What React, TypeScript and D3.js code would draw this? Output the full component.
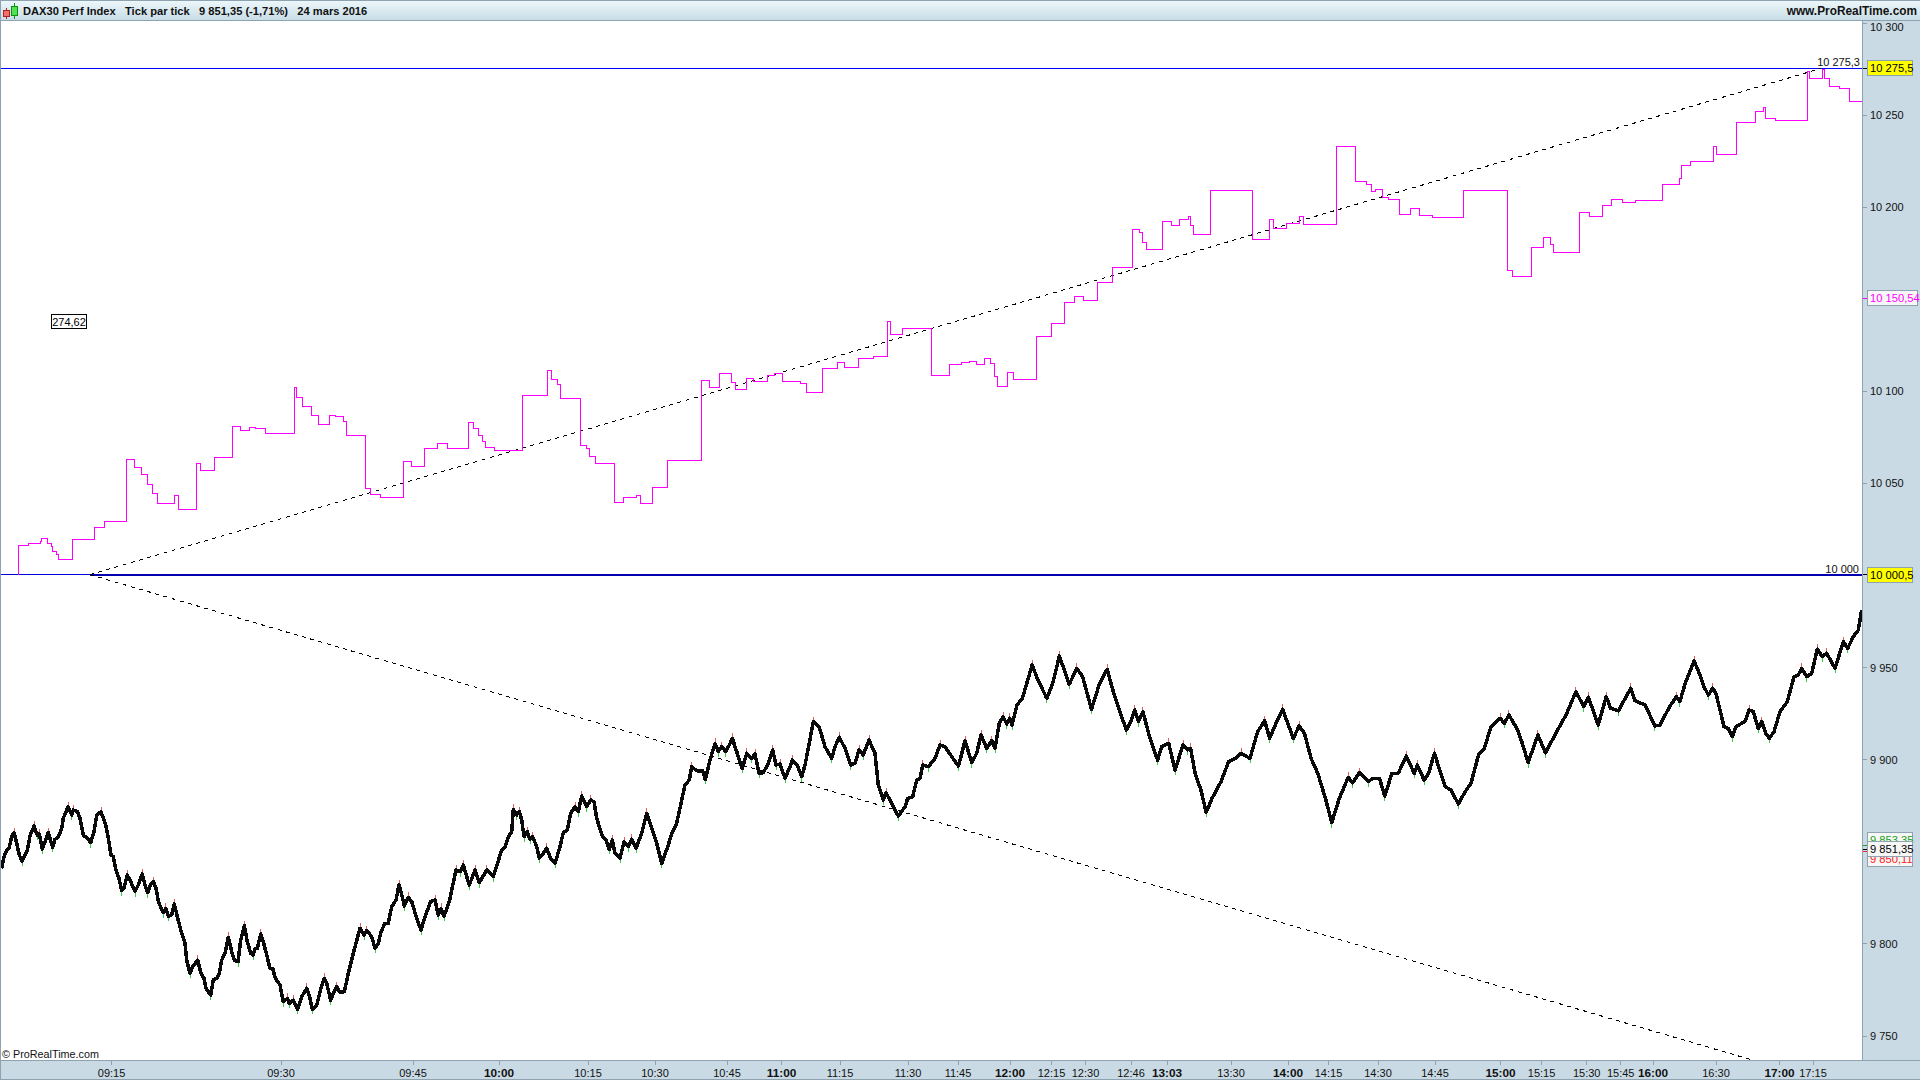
import React from "react";
import * as d3 from "d3";

const W = 1920, H = 1080;

// tick-sequence index (the time axis is not linear in clock time: it advances per tick)
const timeLabels = ["09:15","09:30","09:45","10:00","10:15","10:30","10:45","11:00","11:15","11:30","11:45","12:00","12:15","12:30","12:46","13:03","13:30","14:00","14:15","14:30","14:45","15:00","15:15","15:30","15:45","16:00","16:30","17:00","17:15"];
const timeIndex = [111.6,281,413,499,588,655,727,781.5,840,908,958,1010,1051.5,1085.5,1131,1167,1231,1288,1328.5,1378,1435,1500.5,1541.6,1586.7,1620.7,1653,1716,1779.6,1813];
const boldLabels = ["10:00","11:00","12:00","13:03","14:00","15:00","16:00","17:00"];

const priceTicks = [10300,10250,10200,10100,10050,9950,9900,9800,9750];
const priceLabels = ["10 300","10 250","10 200","10 100","10 050","9 950","9 900","9 800","9 750"];

const blueTop = 10275.5;
const blueBottom = 10000.5;
const trendUp: [number, number][] = [[90,10000.5],[1821,10275.3]];
const trendDown: [number, number][] = [[90,10000.5],[1752,9737]];

const perfPoints: [number, number][] = [
[17.5,10000.5],[18,10016.4],[28.6,10017.5],[40,10018.4],[41,10020.2],[47,10017.5],[51,10015.7],[52,10013.2],[56,10011.2],[58,10008.8],[72,10019.7],[94.7,10026.2],[104,10029.2],[126.5,10063.1],[134,10058.8],[141,10055],[147,10049.7],[152,10044.7],[157.5,10039.2],[174,10043.6],[178.4,10036],[196.3,10061],[200.4,10057.2],[214,10064.2],[232.3,10081],[240.4,10078.9],[249.4,10080.3],[255,10080],[265.3,10077.2],[294,10102.2],[296.7,10096.9],[302.4,10091.9],[311.4,10087],[318.4,10082.1],[329,10087],[335.5,10086.3],[343.7,10083.5],[346.5,10076.2],[365.7,10047.4],[370.2,10044.1],[380.4,10042.5],[403.3,10062],[411.4,10059.3],[424.5,10069.1],[437,10071.8],[447.3,10069.1],[468.2,10083.2],[473.5,10080],[478.4,10076.3],[482.4,10072.7],[485.7,10069.6],[494.7,10068],[522.4,10097.5],[547,10111.4],[551,10106.6],[557,10103.5],[560.4,10096.2],[580,10070.7],[586.5,10068.9],[589.4,10064.9],[595,10061],[614,10039.8],[623.3,10042.5],[636,10043.2],[640,10039.2],
[652.3,10047.9],[667,10062.6],[701.3,10106],[709.3,10102.2],[719.3,10109.8],[731.7,10104.9],[735.7,10101.1],[746,10107.1],[753.3,10105.5],[767.3,10108.7],[774.3,10109.8],[782.3,10105.5],[800.3,10104.4],[806.3,10099.5],[822.7,10112.5],[837.3,10115.8],[844.3,10113.1],[858.3,10118],[873.3,10119],[887.7,10138],[890.3,10131],[902.3,10134.2],[931.3,10108.7],[949.3,10114.7],[961.3,10115.8],[969.3,10116.3],[976.7,10114.7],[984.3,10118],[990,10115.2],[994,10108.3],[997.3,10102.8],[1007.3,10110.4],[1013.3,10106.6],[1036,10129.9],[1051,10137],[1064.3,10148.4],[1074.3,10151.6],[1083.3,10149.5],[1097.3,10159.2],[1112.3,10167.4],[1132.3,10188],[1139.3,10186.4],[1142.3,10180.9],[1146.7,10177.1],
[1162.3,10192.3],[1171.3,10190.2],[1179.3,10193.4],[1188,10195.1],[1190,10190.2],[1193.3,10185.3],[1210.3,10209.2],[1252.3,10182.6],[1269.3,10193.4],[1273.3,10188.5],[1286.3,10191.3],[1299.3,10195.1],[1303.3,10190.7],[1336.3,10233.1],[1355.3,10214.1],[1366,10212.4],[1371.3,10208.6],[1375.3,10209.7],[1382,10205.4],[1388.3,10204.3],[1399.3,10196.1],[1410.3,10199.4],[1419.3,10195.6],[1432.3,10194.5],[1463.3,10209.2],[1507.3,10165.7],[1512.3,10162.5],[1531.3,10178.2],[1543.3,10183.7],[1550,10179.9],[1553.7,10175.5],[1579.3,10197.2],[1589.3,10195.1],[1602.3,10201],[1611.3,10204.3],[1622.3,10202.7],[1635.3,10203.7],[1662.7,10212.4],[1679.3,10215.7],[1681,10222.9],[1690,10224.9],
[1713.7,10233.1],[1716,10228.7],[1736,10246.1],[1755,10252.1],[1763.3,10254.2],[1765.3,10248.3],[1775.3,10247.2],[1807.3,10273.8],[1809.3,10270],[1822.3,10274.9],[1824.3,10270],[1829.3,10265.6],[1839.3,10264.6],[1849.3,10257.5],[1862,10257.5]
];

const daxPoints: [number, number][] = [
[1.7,9841],[4,9847.4],[6.7,9850.6],[9.3,9852.4],[11.7,9858.6],[14,9860.4],[16.7,9854.6],[19.3,9848.3],[22,9845],[25,9848.3],[27.3,9851],[30,9858.6],[34,9864],[37.3,9859.1],[39.3,9859.7],[42.3,9851.4],[45,9855.5],[48.3,9860.4],[52.7,9852.4],[55,9856.8],[58.3,9857.9],[61.7,9862.8],[63.3,9868.2],[68,9874.5],[71.7,9870],[73.3,9872.7],[77.3,9871.8],[80,9868.2],[83.3,9859.1],[87.3,9857.3],[90.7,9855],[94,9861],[96.7,9870],[101,9871.8],[105.7,9864.6],[108.3,9857.3],[111,9848.3],[113.3,9847.4],[116,9840.1],[119,9835.6],[121.7,9828.9],[124,9830.2],[127.3,9837.4],[130.7,9833.8],[135,9828.4],[138.3,9832],[142.3,9838],[145,9832],[147.7,9827.8],[150.7,9832.5],[153.3,9833.8],[156,9830.2],[158.7,9822.4],[163.3,9817],[165.7,9819.3],[168.3,9815.1],[171.7,9815.7],[174.3,9821.7],[177.3,9814.8],[181.7,9805.7],[185,9800.3],[186.7,9791.2],[190,9784],[192.7,9787.6],[197.7,9791.2],[201,9784],[204,9781.3],[206,9775.9],[210.7,9772.2],[213.3,9780.4],[216.7,9781.3],[219.3,9784],[221.7,9791.2],[225,9794.9],[228.3,9803.6],[231.7,9795.8],[234.3,9791.2],[238,9790.3],[240.7,9802.1],[244.3,9809.9],[247.3,9801.2],[250.7,9794.9],[253.3,9794],[255,9797.6],[257.3,9797.6],[260.7,9805.4],[263.3,9801.2],[266.7,9794],[270,9786.7],[272.7,9786.7],[275.3,9781.3],[280,9777.7],[283.3,9768.6],[287.3,9770.4],[289.3,9767.7],[293.3,9769.5],[297.7,9764.5],[301.7,9771.3],[306.7,9775.9],[310,9770.4],[312.3,9764.5],[316.7,9766.8],[320,9774],[324,9781.3],[326.7,9778.6],[330.7,9769.5],[334,9774],[336.7,9776.8],[339.3,9774],[344.3,9774],[348.3,9784],[353.3,9794.9],[360,9808.5],[364,9804.8],[366.7,9807.2],[371.7,9804],[375,9797.6],[378.3,9800.3],[381,9806.6],[385,9811.2],[388.3,9811.2],[391.7,9820.2],[396,9823.8],[399,9832],[402.3,9825.6],[404.3,9820.6],[408.3,9825.3],[411.7,9823],[416.7,9813.9],[421,9807.5],[425,9814.8],[430.7,9823],[435,9823.8],[438.3,9815.7],[441,9819.3],[444,9815.1],[449.3,9823],[456,9840.1],[460,9839.2],[463.3,9842.8],[469.3,9832],[475,9840.1],[479.3,9833.2],
[486.7,9840.1],[493.3,9836.5],[501.7,9851],[505,9852.8],[508.3,9858.2],[511.7,9860.9],[513.3,9873.1],[516.7,9870],[519.3,9871.8],[521.7,9867.3],[524,9858.2],[527.3,9860.9],[530,9856.8],[532.7,9858.2],[536.7,9852.8],[539.3,9846.5],[543.3,9849.2],[546.7,9851.9],[550.7,9846.5],[555,9843.7],[560,9852.8],[563.3,9860.4],[567.3,9861.8],[570.7,9870.9],[575,9874.5],[578.3,9871.8],[581.7,9880.3],[586.7,9874.5],[590.7,9878.1],[594,9877.2],[596.7,9868.2],[599.3,9863.6],[602.7,9858.2],[606,9856.4],[609.3,9851.3],[612.3,9856.4],[615,9849.2],[620,9846.5],[624,9855.5],[628.3,9852.8],[631.7,9856.8],[636,9851.9],[641.7,9860],[646.7,9870.9],[651.7,9862.7],[656.7,9854.6],[661.7,9843.7],[668.3,9853.7],[671.7,9860],[676.7,9865.5],[681.7,9878.1],[685,9886.3],[689.3,9889],[691.7,9896.2],[696.7,9894],[702.7,9894],[705.3,9889.3],[710,9899.8],[715,9908.9],[718.3,9904.4],[721.7,9907.1],[725.7,9904.4],[729.3,9908],[732.3,9911.6],[736.7,9904.4],[742.3,9895.3],[746.7,9903.5],[751.7,9900.7],[755,9903.1],[759,9892.6],[763.3,9893],[768.3,9898],[772.7,9905.3],[776,9897.1],[780,9897.7],[785,9889.9],[790,9896.2],[792.3,9899.8],[797.3,9897.1],[801.7,9890.8],[805,9897.1],[808.3,9906.2],[813.3,9920.7],[819.3,9917.6],[825,9907.1],[831.7,9900.7],[835,9907.1],[839.3,9912.2],[845,9906.2],[850.7,9897.1],[855,9898],[859,9905.3],[863.3,9902.6],[869,9910.7],[875,9903.5],[878.3,9886.3],[883.3,9878.1],[886,9882.1],[891.7,9876.3],[898.3,9869.4],[905,9874.5],[907.7,9879],[912.7,9879.9],[916.7,9889],[920,9889.9],[922.7,9897.1],[928.3,9896.2],[935,9900.7],[940,9908],[945,9907.1],[951.7,9901.7],[958.3,9896.6],[961,9901.7],[965,9910.4],[971.7,9898.4],[976.7,9903.5],[981,9913.4],[986.7,9906.2],[991.7,9910.4],[995,9906.2],[999.3,9919.8],
[1003.1,9923.4],[1006.7,9919.4],[1009.8,9922.5],[1012.1,9918.9],[1017,9929.7],[1022.3,9933.3],[1026.8,9941.5],[1032.1,9951.4],[1037.9,9943.3],[1046.9,9933.3],[1052.7,9941.5],[1059.4,9956.3],[1069.2,9940.9],[1076.8,9949.6],[1082.6,9945.1],[1091.5,9927.4],[1099.1,9940.6],[1107.1,9949.1],[1113.8,9936],[1120.5,9925.2],[1126.3,9916.1],[1130.4,9920.1],[1134.8,9927],[1138.4,9920.7],[1142.9,9926.1],[1149.5,9912.5],[1157.6,9899.8],[1161.6,9907.1],[1168.7,9908.9],[1175,9894.4],[1183,9908],[1187.5,9905.3],[1190.6,9906.2],[1195.1,9892.6],[1200.9,9883.6],[1206.2,9871.4],[1212,9879],[1221,9888.1],[1228.6,9898.9],[1235.3,9900.7],[1241.1,9903.5],[1250,9900.7],[1257.6,9915.2],[1264.7,9921.2],[1269.6,9911.6],[1276.8,9920.7],[1282.6,9927.4],[1293.3,9911.6],[1299.1,9918.3],[1304.5,9914.3],[1311.1,9900.7],[1317.8,9892.6],[1325.9,9878.1],[1331.7,9865.8],[1339.3,9879],[1348.2,9890.4],[1352.7,9887.5],[1359.4,9893],[1368.3,9888.1],[1372.8,9889.9],[1379.5,9889.9],[1384.8,9880.3],[1391.9,9892.6],[1398.2,9892.6],[1406.2,9902],[1414.3,9892.6],[1417.4,9897.1],[1424.1,9889],[1428.6,9892.6],[1434.4,9903.5],[1439.7,9894.4],[1445.1,9885.4],[1450.9,9883.6],[1458.4,9876],[1465.2,9882.7],[1471,9887.2],[1478.5,9902.6],[1484.3,9906.2],[1491,9917.9],[1500,9922.5],[1504.4,9919.8],[1508.9,9924.3],[1517.8,9916.1],[1522.3,9908.9],[1528.1,9898.4],[1537.9,9913.4],[1545.5,9903.8],[1555.8,9914.3],[1566,9924.3],[1575.9,9936.9],[1583.9,9928.8],[1588.4,9933.9],[1598.2,9918.9],[1606.2,9934.2],[1610.7,9927.9],[1618.3,9926.5],[1630.8,9938.8],[1634.8,9932.1],[1645.1,9929.7],[1654.9,9918.3],[1659.8,9918.8],[1669.6,9928.8],[1676.3,9934.2],[1679.9,9931.5],[1685.2,9941.5],[1694.2,9953.6],[1699.5,9946.5],
[1704,9939.7],[1708.3,9935.1],[1712.7,9938.8],[1716,9936],[1720,9927],[1724,9917.9],[1728.3,9917],[1732.3,9912.5],[1736,9917.9],[1741.7,9919.8],[1745,9920.7],[1749,9927],[1753.3,9926.1],[1758.3,9917],[1761.7,9920.7],[1765.7,9914.3],[1769.3,9911.6],[1774,9915.2],[1780,9926.1],[1787.3,9931.5],[1794,9945.1],[1798.3,9946],[1801.7,9949.6],[1806.7,9945.1],[1811.7,9946.9],[1817.3,9960],[1822.3,9956],[1826.7,9957.8],[1835,9949.6],[1843.3,9964.1],[1847.7,9960.5],[1853.3,9966.8],[1858.3,9970.4],[1861.7,9981.3]
];

const font = "'Liberation Sans', Arial, sans-serif";
const AXIS_BG = "#c9dae5";
const BORDER = "#8fa2af";

const PLOT_RIGHT = 1862;
const PLOT_BOTTOM = 1060;
const PLOT_TOP = 20;

export default function App() {
  const x = d3.scaleLinear().domain([0, 1862]).range([0, 1862]);
  const y = d3.scaleLinear().domain([9750, 10300]).range([1036, 23]);
  const line = d3.line<[number, number]>().x((d) => x(d[0])).y((d) => y(d[1]));
  const stepLine = d3.line<[number, number]>().x((d) => x(d[0])).y((d) => y(d[1])).curve(d3.curveStepAfter);

  const peaks = daxPoints.filter((d, i) => i > 0 && i < daxPoints.length - 1 && d[1] > daxPoints[i - 1][1] && d[1] > daxPoints[i + 1][1]);
  const troughs = daxPoints.filter((d, i) => i > 0 && i < daxPoints.length - 1 && d[1] < daxPoints[i - 1][1] && d[1] < daxPoints[i + 1][1]);

  const priceBox = (p: number, label: string, fill: string, color: string, w: number, yc: number) => (
    <g key={label}>
      <line x1={PLOT_RIGHT + 1} x2={1867} y1={y(p)} y2={y(p)} stroke={color} strokeWidth={1} shapeRendering="crispEdges" />
      <rect x={1867.5} y={yc - 7.5} width={w} height={15} fill={fill} stroke={BORDER} strokeWidth={1} shapeRendering="crispEdges" />
      <text x={1870} y={yc + 4} fontSize={11.2} fontFamily={font} fill={color}>{label}</text>
    </g>
  );

  return (
    <svg width={W} height={H} viewBox={`0 0 ${W} ${H}`} style={{ position: "absolute", left: 0, top: 0, display: "block" }}>
      <defs>
        <linearGradient id="hdr" x1="0" y1="0" x2="0" y2="1">
          <stop offset="0" stopColor="#eef8fb" />
          <stop offset="1" stopColor="#c8dde7" />
        </linearGradient>
        <clipPath id="plot"><rect x={1} y={PLOT_TOP} width={PLOT_RIGHT - 1} height={PLOT_BOTTOM - PLOT_TOP} /></clipPath>
      </defs>
      <rect width={W} height={H} fill="#fff" />

      {/* axis panels */}
      <rect x={PLOT_RIGHT} y={20} width={W - PLOT_RIGHT} height={H - 20} fill={AXIS_BG} />
      <rect x={0} y={PLOT_BOTTOM} width={W} height={H - PLOT_BOTTOM} fill={AXIS_BG} />

      <g clipPath="url(#plot)">
        {/* horizontal levels */}
        <line x1={x(0)} x2={x(1862)} y1={y(blueTop)} y2={y(blueTop)} stroke="#0000ff" strokeWidth={1} shapeRendering="crispEdges" />
        <line x1={x(0)} x2={x(90)} y1={y(blueBottom)} y2={y(blueBottom)} stroke="#0000e0" strokeWidth={1} shapeRendering="crispEdges" />
        <line x1={x(90)} x2={x(1862)} y1={y(blueBottom)} y2={y(blueBottom)} stroke="#0000b0" strokeWidth={2} shapeRendering="crispEdges" />

        {/* trend segments */}
        <path d={line(trendUp) as string} fill="none" stroke="#000" strokeWidth={1} strokeDasharray="4 4.5" shapeRendering="crispEdges" />
        <path d={line(trendDown) as string} fill="none" stroke="#000" strokeWidth={1} strokeDasharray="4 4.5" shapeRendering="crispEdges" />

        {/* perf index */}
        <path d={stepLine(perfPoints) as string} fill="none" stroke="#ff00ff" strokeWidth={1} shapeRendering="crispEdges" />

        {/* wicks */}
        {peaks.map((d, i) => (
          <line key={"p" + i} x1={x(d[0])} x2={x(d[0])} y1={y(d[1]) - 5} y2={y(d[1])} stroke="#e06060" strokeWidth={1} shapeRendering="crispEdges" />
        ))}
        {troughs.map((d, i) => (
          <line key={"t" + i} x1={x(d[0])} x2={x(d[0])} y1={y(d[1])} y2={y(d[1]) + 5} stroke="#35cf45" strokeWidth={1} shapeRendering="crispEdges" />
        ))}
        {/* DAX line */}
        <path d={line(daxPoints) as string} fill="none" stroke="#0a0a0a" strokeWidth={3.5} strokeLinejoin="round" shapeRendering="crispEdges" />
      </g>

      {/* frame */}
      <rect x={0} y={0} width={W} height={20} fill="url(#hdr)" />
      <line x1={0} x2={W} y1={0.5} y2={0.5} stroke={BORDER} />
      <line x1={0} x2={W} y1={20.5} y2={20.5} stroke={BORDER} />
      <line x1={0.5} x2={0.5} y1={0} y2={H} stroke={BORDER} />
      <line x1={PLOT_RIGHT + 0.5} x2={PLOT_RIGHT + 0.5} y1={20} y2={PLOT_BOTTOM} stroke={BORDER} />
      <line x1={0} x2={W} y1={PLOT_BOTTOM + 0.5} y2={PLOT_BOTTOM + 0.5} stroke={BORDER} />
      <line x1={0} x2={W} y1={H - 0.5} y2={H - 0.5} stroke={BORDER} />

      {/* header */}
      <g shapeRendering="crispEdges">
        <line x1={6.5} x2={6.5} y1={8} y2={19} stroke="#b02020" />
        <rect x={3.5} y={10.5} width={6} height={6} fill="#f07070" stroke="#b02020" />
        <line x1={14.5} x2={14.5} y1={3} y2={19} stroke="#109010" />
        <rect x={11.5} y={6.5} width={6} height={9} fill="#50e050" stroke="#109010" />
      </g>
      <text x={23} y={14.5} fontSize={11.13} fontWeight={700} fontFamily={font} fill="#111" style={{ whiteSpace: "pre" }}>
        {"DAX30 Perf Index   Tick par tick   9 851,35 (-1,71%)   24 mars 2016"}
      </text>
      <text x={1917} y={14.5} fontSize={11.85} fontWeight={700} fontFamily={font} fill="#111" textAnchor="end">www.ProRealTime.com</text>

      {/* on-chart labels */}
      <rect x={51.5} y={314.5} width={35} height={14} fill="#fff" stroke="#000" shapeRendering="crispEdges" />
      <text x={69} y={325.5} fontSize={11} fontFamily={font} textAnchor="middle" fill="#000">274,62</text>
      <text x={1860} y={66} fontSize={11} fontFamily={font} textAnchor="end" fill="#111" style={{ whiteSpace: "pre" }}>10 275,3</text>
      <text x={1859} y={573} fontSize={11} fontFamily={font} textAnchor="end" fill="#111" style={{ whiteSpace: "pre" }}>10 000</text>
      <text x={2} y={1058} fontSize={10.8} fontFamily={font} fill="#111">© ProRealTime.com</text>

      {/* right axis */}
      {priceTicks.map((p, i) => (
        <g key={p}>
          <line x1={PLOT_RIGHT + 1} x2={1867} y1={y(p)} y2={y(p)} stroke={BORDER} shapeRendering="crispEdges" />
          <text x={1870} y={(p === 10300 ? y(p) + 4 : y(p)) + 4} fontSize={11} fontFamily={font} fill="#111">{priceLabels[i]}</text>
        </g>
      ))}
      {priceBox(blueTop, "10 275,5", "#ffff00", "#000", 44.5, y(blueTop))}
      {priceBox(blueBottom, "10 000,5", "#ffff00", "#000", 44.5, y(blueBottom))}
      {priceBox(10150.54, "10 150,54", "#f7f7f7", "#ff00ff", 50, y(10150.54))}
      {priceBox(9853.35, "9 853,35", "#f7f7f7", "#20a020", 44.5, 840)}
      {priceBox(9850.11, "9 850,11", "#f7f7f7", "#ff2020", 44.5, 859)}
      {priceBox(9851.35, "9 851,35", "#f7f7f7", "#000", 44.5, 848.5)}

      {/* time axis */}
      {timeLabels.map((t, i) => {
        const bold = boldLabels.includes(t);
        return (
          <g key={t}>
            <line x1={x(timeIndex[i])} x2={x(timeIndex[i])} y1={PLOT_BOTTOM + 1} y2={PLOT_BOTTOM + 5} stroke={BORDER} shapeRendering="crispEdges" />
            <text x={x(timeIndex[i])} y={1077} textAnchor="middle" fontFamily={font} fontSize={bold ? 11.8 : 11} fontWeight={bold ? 700 : 400} fill="#111">{t}</text>
          </g>
        );
      })}
    </svg>
  );
}
